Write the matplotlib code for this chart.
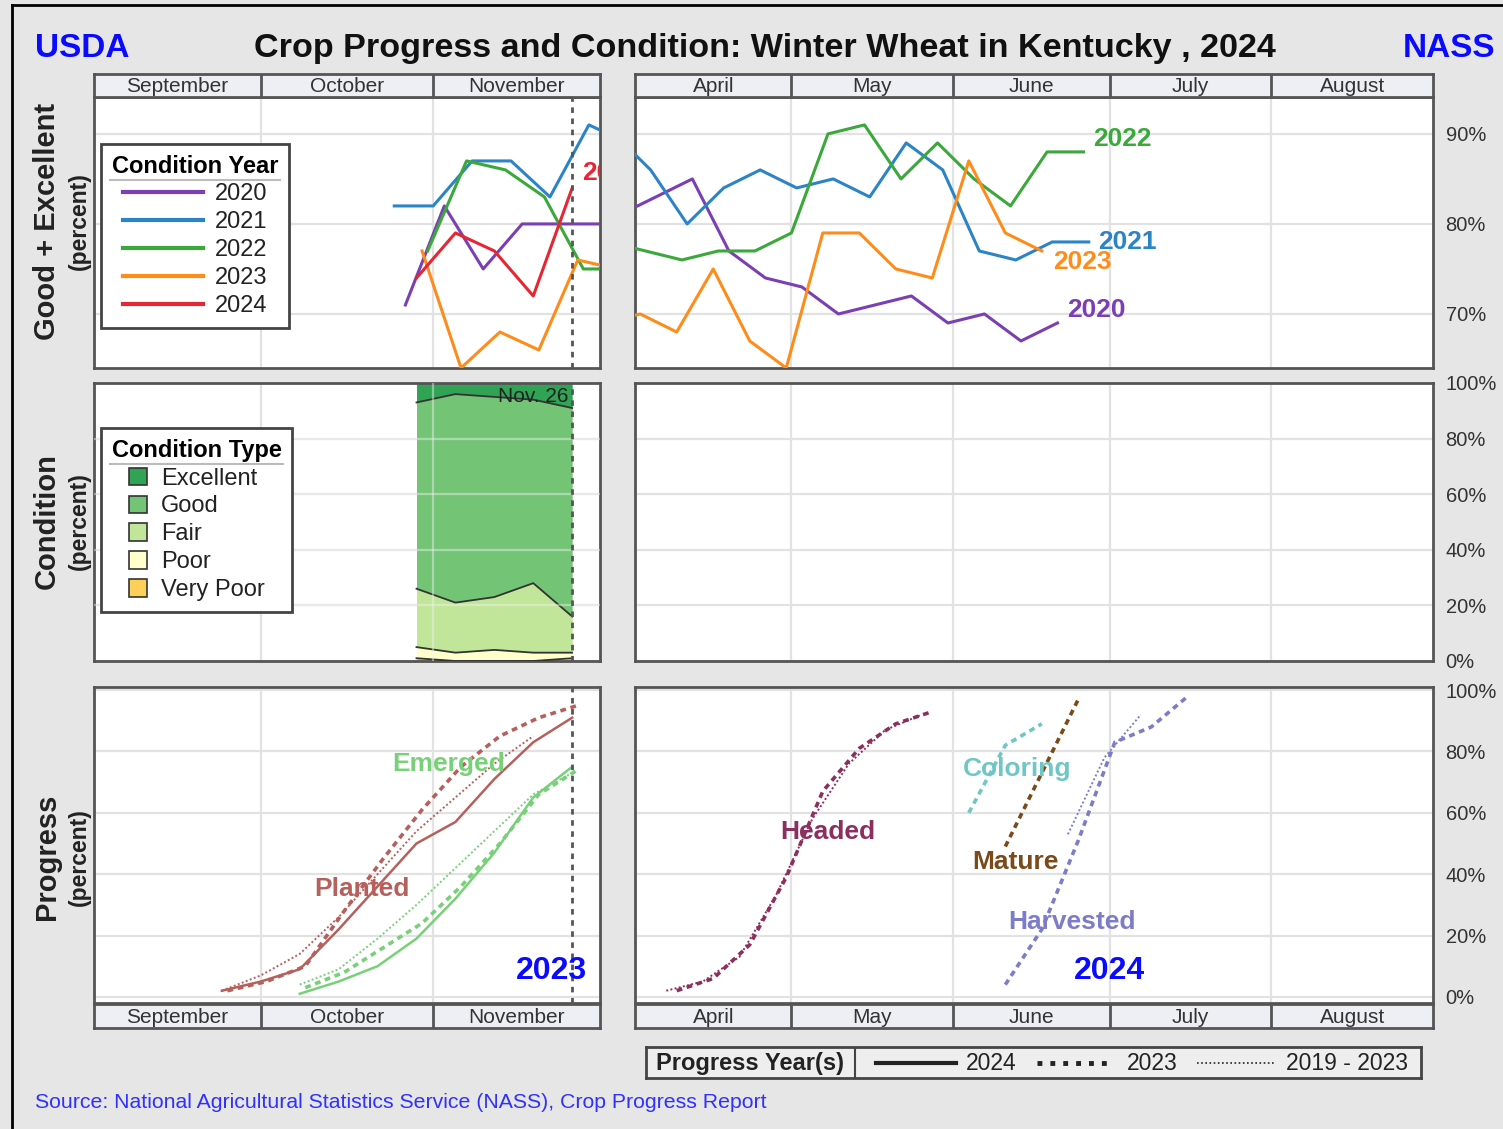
import numpy as np
import pandas as pd
import matplotlib
matplotlib.use("Agg")
import matplotlib.pyplot as plt
import matplotlib.dates as mdates
from matplotlib.lines import Line2D
from matplotlib.patches import Patch
from matplotlib.ticker import FuncFormatter

plt.rcParams['font.family'] = ['Liberation Sans', 'DejaVu Sans']

FALL_YEAR = 2023
SPRING_YEAR = 2024
CURRENT_WEEK = "11-26"

# ---- good + excellent, fall (plotted on the 2023 calendar) ----
cond_years = ["2020", "2021", "2022", "2023", "2024"]
fall_2020_dates = ["10-27", "11-03", "11-10", "11-17", "11-24", "12-01"]
fall_2020_ge = [71, 82, 75, 80, 80, 80]
fall_2021_dates = ["10-25", "11-01", "11-08", "11-15", "11-22", "11-29", "12-06"]
fall_2021_ge = [82, 82, 87, 87, 83, 91, 89]
fall_2022_dates = ["10-31", "11-07", "11-14", "11-21", "11-28", "12-05"]
fall_2022_ge = [77, 87, 86, 83, 75, 75]
fall_2023_dates = ["10-30", "11-06", "11-13", "11-20", "11-27", "12-04"]
fall_2023_ge = [77, 64, 68, 66, 76, 75]

# ---- good + excellent, spring (plotted on the 2024 calendar) ----
spring_2020_dates = ["03-29", "04-05", "04-12", "04-19", "04-26", "05-03", "05-10",
                     "05-17", "05-24", "05-31", "06-07", "06-14", "06-21"]
spring_2020_ge = [81, 83, 85, 77, 74, 73, 70, 71, 72, 69, 70, 67, 69]
spring_2021_dates = ["03-28", "04-04", "04-11", "04-18", "04-25", "05-02", "05-09",
                     "05-16", "05-23", "05-30", "06-06", "06-13", "06-20", "06-27"]
spring_2021_ge = [90, 86, 80, 84, 86, 84, 85, 83, 89, 86, 77, 76, 78, 78]
spring_2022_dates = ["03-27", "04-03", "04-10", "04-17", "04-24", "05-01", "05-08",
                     "05-15", "05-22", "05-29", "06-05", "06-12", "06-19", "06-26"]
spring_2022_ge = [78, 77, 76, 77, 77, 79, 90, 91, 85, 89, 85, 82, 88, 88]
spring_2023_dates = ["03-26", "04-02", "04-09", "04-16", "04-23", "04-30", "05-07",
                     "05-14", "05-21", "05-28", "06-04", "06-11", "06-18"]
spring_2023_ge = [69, 70, 68, 75, 67, 64, 79, 79, 75, 74, 87, 79, 77]

# ---- condition 2024 crop (percent) ----
cond_types = ["Excellent", "Good", "Fair", "Poor", "Very Poor"]
cond_dates = ["10-29", "11-05", "11-12", "11-19", "11-26"]
cond_excellent = [7, 4, 5, 6, 9]
cond_good = [67, 75, 72, 66, 75]
cond_fair = [21, 18, 19, 25, 13]
cond_poor = [4, 3, 4, 3, 2]
cond_very_poor = [1, 0, 0, 0, 1]

# ---- progress, fall ----
planted_2024_dates = ["09-24", "10-01", "10-08", "10-15", "10-22", "10-29", "11-05", "11-12", "11-19", "11-26"]
planted_2024 = [2, 5, 9, 22, 36, 50, 57, 71, 83, 91]
planted_2023_dates = ["09-25", "10-02", "10-09", "10-16", "10-23", "10-30", "11-06", "11-13", "11-20", "11-27"]
planted_2023 = [2, 5, 10, 28, 45, 61, 75, 85, 91, 95]
planted_avg_dates = ["09-24", "10-01", "10-08", "10-15", "10-22", "10-29", "11-05", "11-12", "11-19"]
planted_avg = [2, 7, 14, 26, 40, 54, 65, 76, 85]
emerged_2024_dates = ["10-08", "10-15", "10-22", "10-29", "11-05", "11-12", "11-19", "11-26"]
emerged_2024 = [1, 5, 10, 19, 32, 47, 65, 75]
emerged_2023_dates = ["10-09", "10-16", "10-23", "10-30", "11-06", "11-13", "11-20", "11-27"]
emerged_2023 = [3, 8, 16, 24, 36, 50, 66, 74]
emerged_avg_dates = ["10-08", "10-15", "10-22", "10-29", "11-05", "11-12", "11-19", "11-26"]
emerged_avg = [4, 9, 19, 30, 42, 54, 66, 73]

# ---- progress, spring ----
headed_2023_dates = ["04-09", "04-16", "04-23", "04-30", "05-07", "05-14", "05-21", "05-28"]
headed_2023 = [2, 6, 17, 39, 67, 81, 89, 93]
headed_avg_dates = ["04-07", "04-14", "04-21", "04-28", "05-05", "05-12", "05-19", "05-26"]
headed_avg = [2, 5, 13, 33, 58, 76, 87, 92]
coloring_2023_dates = ["06-04", "06-11", "06-18"]
coloring_2023 = [60, 82, 89]
mature_2023_dates = ["06-11", "06-18", "06-25"]
mature_2023 = [49, 73, 97]
harvested_2023_dates = ["06-11", "06-18", "06-25", "07-02", "07-09", "07-16"]
harvested_2023 = [4, 22, 51, 83, 88, 98]
harvested_avg_dates = ["06-23", "06-30", "07-07"]
harvested_avg = [53, 78, 92]

fall_months = ["September", "October", "November"]
spring_months = ["April", "May", "June", "July", "August"]

# ---- styling ----
year_colors = ['#7b3fb3', '#2b84c6', '#3aa83a', '#ff8c1a', '#e62633']
cond_colors = ['#31a354', '#74c476', '#c2e699', '#ffffcc', '#fdd05a']
c_planted, c_emerged = '#b5605c', '#78d078'
c_headed, c_coloring, c_mature, c_harvest = '#8b2f5f', '#6fc6c6', '#7a4a1a', '#7c7cc8'
FRAME = '#555555'
DASH_23 = (0, (1.6, 1.3))
DOT_AVG = (0, (1, 1.2))

W, H = 1503, 1129
fig = plt.figure(figsize=(W / 100, H / 100), dpi=100, facecolor='#e6e6e6')


def px_axes(x0, y0, x1, y1):
    return fig.add_axes([x0 / W, 1 - y1 / H, (x1 - x0) / W, (y1 - y0) / H])


def to_dates(days, year):
    return pd.to_datetime([f"{year}-{d}" for d in days])


def dnum(ts):
    return mdates.date2num(pd.Timestamp(ts).to_pydatetime())


fall_lim = (dnum(f"{FALL_YEAR}-09-01"), dnum(f"{FALL_YEAR}-12-01"))
spring_lim = (dnum(f"{SPRING_YEAR}-04-01"), dnum(f"{SPRING_YEAR}-09-01"))


def month_bounds(lim, n):
    starts = pd.date_range(mdates.num2date(lim[0]).replace(tzinfo=None), periods=n + 1, freq='MS')
    return [dnum(s) for s in starts]


def style_panel(ax, lim, n_months, ylim, yticks, right_labels):
    ax.set_xlim(*lim)
    ax.set_ylim(*ylim)
    ax.set_xticks(month_bounds(lim, n_months)[1:-1])
    ax.set_yticks(yticks)
    ax.grid(True, color='#e2e2e2', lw=1.6)
    ax.set_axisbelow(True)
    for s in ax.spines.values():
        s.set_color(FRAME)
        s.set_linewidth(2)
    ax.tick_params(axis='both', length=0, labelbottom=False, labelleft=False)
    if right_labels:
        ax.tick_params(axis='y', labelright=True, pad=9, labelsize=14.5, labelcolor='#333333')
        ax.yaxis.set_major_formatter(FuncFormatter(lambda v, p: f"{v:.0f}%"))


def month_strip(x0, y0, x1, y1, lim, names):
    ax = px_axes(x0, y0, x1, y1)
    ax.set_xlim(*lim)
    ax.set_ylim(0, 1)
    ax.set_facecolor('#eeeef5')
    b = month_bounds(lim, len(names))
    for s in b[1:-1]:
        ax.axvline(s, color=FRAME, lw=2)
    for a, c, name in zip(b[:-1], b[1:], names):
        ax.text((a + c) / 2, 0.45, name, ha='center', va='center', fontsize=15,
                color='#333333', family=['Liberation Sans', 'DejaVu Sans'])
    ax.set_xticks([])
    ax.set_yticks([])
    for s in ax.spines.values():
        s.set_color(FRAME)
        s.set_linewidth(2)


def underline_title(leg):
    # thin grey rule under the legend title
    fig.canvas.draw()
    r = fig.canvas.get_renderer()
    tb = leg.get_title().get_window_extent(r)
    fb = leg.get_frame().get_window_extent(r)
    y = (tb.y0 - 2) / H
    fig.add_artist(Line2D([(fb.x0 + 9) / W, (fb.x1 - 9) / W], [y, y], color='#bbbbbb', lw=1.5))


ax_tl = px_axes(94, 97, 600, 368)
ax_tr = px_axes(635, 97, 1433, 368)
ax_ml = px_axes(94, 383, 600, 661)
ax_mr = px_axes(635, 383, 1433, 661)
ax_bl = px_axes(94, 687, 600, 1003)
ax_br = px_axes(635, 687, 1433, 1003)

style_panel(ax_tl, fall_lim, 3, (64, 94.1), [70, 80, 90], False)
style_panel(ax_tr, spring_lim, 5, (64, 94.1), [70, 80, 90], True)
style_panel(ax_ml, fall_lim, 3, (0, 100), range(0, 101, 20), False)
style_panel(ax_mr, spring_lim, 5, (0, 100), range(0, 101, 20), True)
style_panel(ax_bl, fall_lim, 3, (-2, 101), range(0, 101, 20), False)
style_panel(ax_br, spring_lim, 5, (-2, 101), range(0, 101, 20), True)

month_strip(94, 74, 600, 97, fall_lim, fall_months)
month_strip(635, 74, 1433, 97, spring_lim, spring_months)
month_strip(94, 1004, 600, 1028, fall_lim, fall_months)
month_strip(635, 1004, 1433, 1028, spring_lim, spring_months)

# ---- row 1: good + excellent ----
fall_2024_ge = [g + e for g, e in zip(cond_good, cond_excellent)]
fall_series = [(fall_2020_dates, fall_2020_ge), (fall_2021_dates, fall_2021_ge),
               (fall_2022_dates, fall_2022_ge), (fall_2023_dates, fall_2023_ge),
               (cond_dates, fall_2024_ge)]
for (d, v), col in zip(fall_series, year_colors):
    ax_tl.plot(to_dates(d, FALL_YEAR), v, color=col, lw=2.2, zorder=3)
ax_tl.annotate("2024", (to_dates(cond_dates, FALL_YEAR)[-1], fall_2024_ge[-1]),
               xytext=(7, 11), textcoords='offset points', ha='left', va='center',
               fontsize=19, weight='bold', color=year_colors[4], clip_on=True)

spring_series = [(spring_2020_dates, spring_2020_ge, (7, 9)),
                 (spring_2021_dates, spring_2021_ge, (7, 0)),
                 (spring_2022_dates, spring_2022_ge, (7, 9)),
                 (spring_2023_dates, spring_2023_ge, (8, -8))]
for (d, v, off), col, yr in zip(spring_series, year_colors, cond_years):
    x = to_dates(d, SPRING_YEAR)
    ax_tr.plot(x, v, color=col, lw=2.2, zorder=3)
    ax_tr.annotate(yr, (x[-1], v[-1]), xytext=off, textcoords='offset points',
                   ha='left', va='center', fontsize=19, weight='bold', color=col)

leg = ax_tl.legend([Line2D([], [], color=c, lw=3) for c in year_colors], cond_years,
                   title='Condition Year', loc='upper left', bbox_to_anchor=(0.014, 0.827),
                   fancybox=False, edgecolor='#444444', framealpha=1, fontsize=17,
                   title_fontproperties={'weight': 'bold', 'size': 17},
                   handlelength=3.4, labelspacing=0.25, borderpad=0.45,
                   handletextpad=0.5, borderaxespad=0)
leg.get_frame().set_linewidth(2)
for t in leg.get_texts():
    t.set_color('#222222')

# ---- row 2: condition ----
xc = to_dates(cond_dates, FALL_YEAR)
layers = [cond_very_poor, cond_poor, cond_fair, cond_good, cond_excellent]
base = np.zeros(len(xc))
for i, vals in enumerate(layers):
    top = base + np.array(vals)
    ax_ml.fill_between(xc, base, top, color=cond_colors[4 - i], lw=0, zorder=2)
    if i < len(layers) - 1:
        ax_ml.plot(xc, top, color='#333333', lw=1.3, zorder=3)
    base = top
for yv in range(20, 100, 20):
    ax_ml.axhline(yv, color='#f2f2f2', alpha=0.45, lw=1.6, zorder=4)
ax_ml.axvline(month_bounds(fall_lim, 3)[2], color='#f2f2f2', alpha=0.45, lw=1.6, zorder=4)
ax_ml.annotate("Nov. 26", (dnum(f"{FALL_YEAR}-{CURRENT_WEEK}"), 100), xytext=(-3, -3),
               textcoords='offset points', ha='right', va='top', fontsize=15, color='#222222', zorder=5)

leg2 = ax_ml.legend([Patch(facecolor=c, edgecolor='#333333', lw=1.2) for c in cond_colors],
                    cond_types, title='Condition Type', loc='upper left',
                    bbox_to_anchor=(0.014, 0.838), fancybox=False, edgecolor='#444444',
                    framealpha=1, fontsize=17,
                    title_fontproperties={'weight': 'bold', 'size': 17},
                    handlelength=0.75, handleheight=0.75, labelspacing=0.25,
                    borderpad=0.45, handletextpad=0.6, borderaxespad=0)
leg2.get_frame().set_linewidth(2)
for t in leg2.get_texts():
    t.set_color('#222222')

# ---- row 3: progress ----
prog_fall = [(planted_2024_dates, planted_2024, c_planted, '-'),
             (planted_2023_dates, planted_2023, c_planted, DASH_23),
             (planted_avg_dates, planted_avg, c_planted, DOT_AVG),
             (emerged_2024_dates, emerged_2024, c_emerged, '-'),
             (emerged_2023_dates, emerged_2023, c_emerged, DASH_23),
             (emerged_avg_dates, emerged_avg, c_emerged, DOT_AVG)]
for d, v, col, ls in prog_fall:
    lw = 1.8 if ls == '-' else (2.6 if ls == DASH_23 else 1.4)
    ax_bl.plot(to_dates(d, FALL_YEAR), v, color=col, ls=ls, lw=lw, zorder=3)

prog_spring = [(headed_2023_dates, headed_2023, c_headed, DASH_23),
               (headed_avg_dates, headed_avg, c_headed, DOT_AVG),
               (coloring_2023_dates, coloring_2023, c_coloring, DASH_23),
               (mature_2023_dates, mature_2023, c_mature, DASH_23),
               (harvested_2023_dates, harvested_2023, c_harvest, DASH_23),
               (harvested_avg_dates, harvested_avg, c_harvest, DOT_AVG)]
for d, v, col, ls in prog_spring:
    lw = 2.6 if ls == DASH_23 else 1.4
    ax_br.plot(to_dates(d, SPRING_YEAR), v, color=col, ls=ls, lw=lw, zorder=3)

lab = dict(ha='center', va='center', fontsize=19, weight='bold', zorder=5)
ax_bl.text(0.700, 0.756, "Emerged", color=c_emerged, transform=ax_bl.transAxes, **lab)
ax_bl.text(0.530, 0.361, "Planted", color=c_planted, transform=ax_bl.transAxes, **lab)
ax_bl.text(0.905, 0.101, "2023", color='#0a0aff', transform=ax_bl.transAxes,
           ha='center', va='center', fontsize=23, weight='bold', zorder=5)
ax_br.text(0.241, 0.541, "Headed", color=c_headed, transform=ax_br.transAxes, **lab)
ax_br.text(0.479, 0.741, "Coloring", color=c_coloring, transform=ax_br.transAxes, **lab)
ax_br.text(0.477, 0.446, "Mature", color=c_mature, transform=ax_br.transAxes, **lab)
ax_br.text(0.548, 0.256, "Harvested", color=c_harvest, transform=ax_br.transAxes, **lab)
ax_br.text(0.595, 0.101, "2024", color='#0a0aff', transform=ax_br.transAxes,
           ha='center', va='center', fontsize=23, weight='bold', zorder=5)

# current week marker
for ax in (ax_tl, ax_ml, ax_bl):
    ax.axvline(dnum(f"{FALL_YEAR}-{CURRENT_WEEK}"), color='#555555', ls=(0, (2, 2)), lw=2, zorder=4)

# ---- titles and axis labels ----
fig.text(35 / W, 1 - 45 / H, "USDA", ha='left', va='center_baseline', fontsize=24, weight='bold', color='#0a0aff')
fig.text(765 / W, 1 - 45 / H, "Crop Progress and Condition: Winter Wheat in Kentucky , 2024",
         ha='center', va='center_baseline', fontsize=24.6, weight='bold', color='#111111')
fig.text(1495 / W, 1 - 45 / H, "NASS", ha='right', va='center_baseline', fontsize=24, weight='bold', color='#0a0aff')

for yc, name in [(221, "Good + Excellent"), (521, "Condition"), (857, "Progress")]:
    fig.text(47 / W, 1 - yc / H, name, rotation=90, ha='center', va='center',
             fontsize=21, weight='bold', color='#222222')
    fig.text(79 / W, 1 - yc / H, "(percent)", rotation=90, ha='center', va='center',
             fontsize=16.5, weight='bold', color='#222222')

fig.text(35 / W, 1 - 1103 / H, "Source: National Agricultural Statistics Service (NASS), Crop Progress Report",
         ha='left', va='center', fontsize=15.3, color='#3030ff')

# ---- progress year legend box ----
axl = px_axes(646, 1047, 1421, 1078)
axl.set_xlim(646, 1421)
axl.set_ylim(0, 1)
axl.set_facecolor('#eeeeee')
axl.set_xticks([])
axl.set_yticks([])
for s in axl.spines.values():
    s.set_color('#444444')
    s.set_linewidth(2)
axl.axvline(855, color='#444444', lw=1.5)
axl.text(750, 0.47, "Progress Year(s)", ha='center', va='center', fontsize=17, weight='bold', color='#222222')
axl.plot([876, 956], [0.5, 0.5], color='#222222', lw=3)
axl.text(966, 0.47, "2024", ha='left', va='center', fontsize=16.5, color='#222222')
axl.plot([1037, 1113], [0.5, 0.5], color='#222222', lw=3.5, ls=':')
axl.text(1127, 0.47, "2023", ha='left', va='center', fontsize=16.5, color='#222222')
axl.plot([1197, 1275], [0.5, 0.5], color='#222222', lw=1.2, ls=(0, (1, 1.5)))
axl.text(1286, 0.47, "2019 - 2023", ha='left', va='center', fontsize=16.5, color='#222222')

# outer frame
fig.add_artist(Line2D([12 / W, 1], [1 - 5 / H, 1 - 5 / H], color='black', lw=2))
fig.add_artist(Line2D([12 / W, 12 / W], [0, 1 - 5 / H], color='black', lw=2))

underline_title(leg)
underline_title(leg2)

fig.savefig('out.png', dpi=100, facecolor=fig.get_facecolor())
